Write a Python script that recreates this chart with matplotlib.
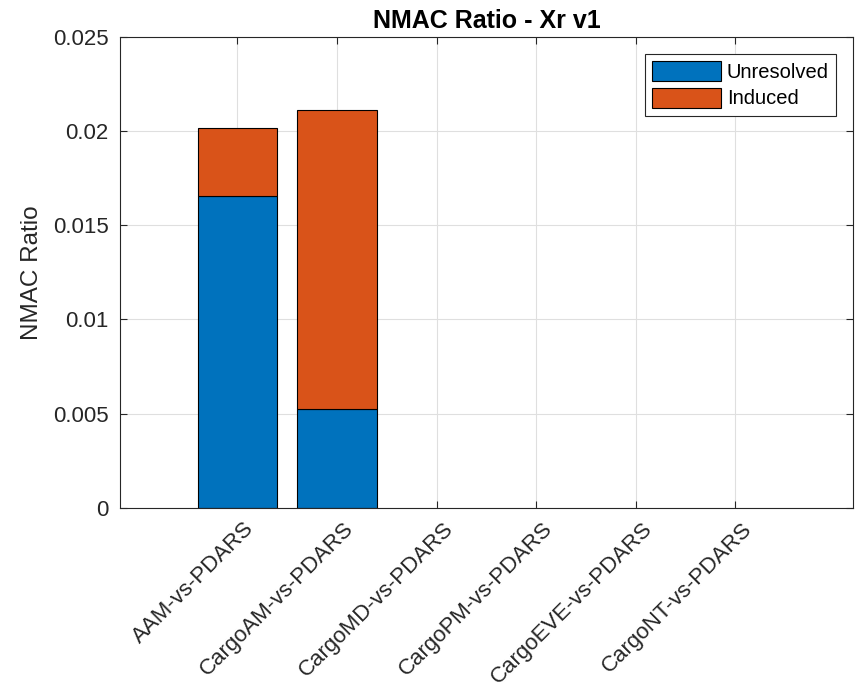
import matplotlib.pyplot as plt
import matplotlib.transforms as mtransforms
import numpy as np

plt.rcParams['font.family'] = ['Liberation Sans', 'DejaVu Sans']

categories = ["AAM-vs-PDARS", "CargoAM-vs-PDARS", "CargoMD-vs-PDARS",
              "CargoPM-vs-PDARS", "CargoEVE-vs-PDARS", "CargoNT-vs-PDARS"]
unresolved = [0.01656, 0.00522, 0, 0, 0, 0]
induced = [0.00361, 0.01587, 0, 0, 0, 0]

blue = "#0072BD"
orange = "#D95319"
dark = "#262626"

fig = plt.figure(figsize=(8.57, 6.91), dpi=100)
ax = fig.add_axes([0.14, 0.265, 0.8553, 0.682])

x = np.arange(1, len(categories) + 1)
# zero-height bars draw nothing in the original
lw_u = [0.8 if v > 0 else 0 for v in unresolved]
lw_i = [0.8 if v > 0 else 0 for v in induced]
ax.bar(x, unresolved, width=0.8, color=blue, edgecolor="black", linewidth=lw_u, label="Unresolved")
ax.bar(x, induced, width=0.8, bottom=unresolved, color=orange, edgecolor="black", linewidth=lw_i, label="Induced")

ax.set_xlim(-0.18, 7.18)
ax.set_ylim(0, 0.025)
ax.set_yticks([0, 0.005, 0.01, 0.015, 0.02, 0.025])
ax.set_yticklabels(["0", "0.005", "0.01", "0.015", "0.02", "0.025"])
ax.set_xticks(x)
ax.set_xticklabels([])

# rotated category labels, anchored at their top-right corner like MATLAB does
shift = mtransforms.ScaledTranslation(6 / 100, -10.5 / 100, fig.dpi_scale_trans)
for xi, name in zip(x, categories):
    ax.text(xi, 0, name, transform=ax.get_xaxis_transform() + shift,
            rotation=45, ha="right", va="top", rotation_mode="anchor",
            fontsize=16, color=dark)

ax.set_axisbelow(True)
ax.grid(True, color="#dfdfdf", linewidth=0.8)
ax.tick_params(direction="in", length=5, width=0.8, colors=dark,
               top=True, right=True)
ax.tick_params(axis="y", labelsize=16, pad=8)
for s in ax.spines.values():
    s.set_color(dark)
    s.set_linewidth(0.8)

ax.set_ylabel("NMAC Ratio", fontsize=17.5, color=dark, labelpad=7)
ax.set_title("NMAC Ratio - Xr v1", fontsize=18, fontweight="bold", color="black", pad=6)

leg = ax.legend(loc="upper right", fontsize=14.5, handlelength=3.4, handleheight=1.15,
                fancybox=False, edgecolor=dark, framealpha=1, borderaxespad=0.85,
                borderpad=0.35, labelspacing=0.3, handletextpad=0.3)
leg.get_frame().set_linewidth(0.8)

fig.savefig("out.png", dpi=100)
